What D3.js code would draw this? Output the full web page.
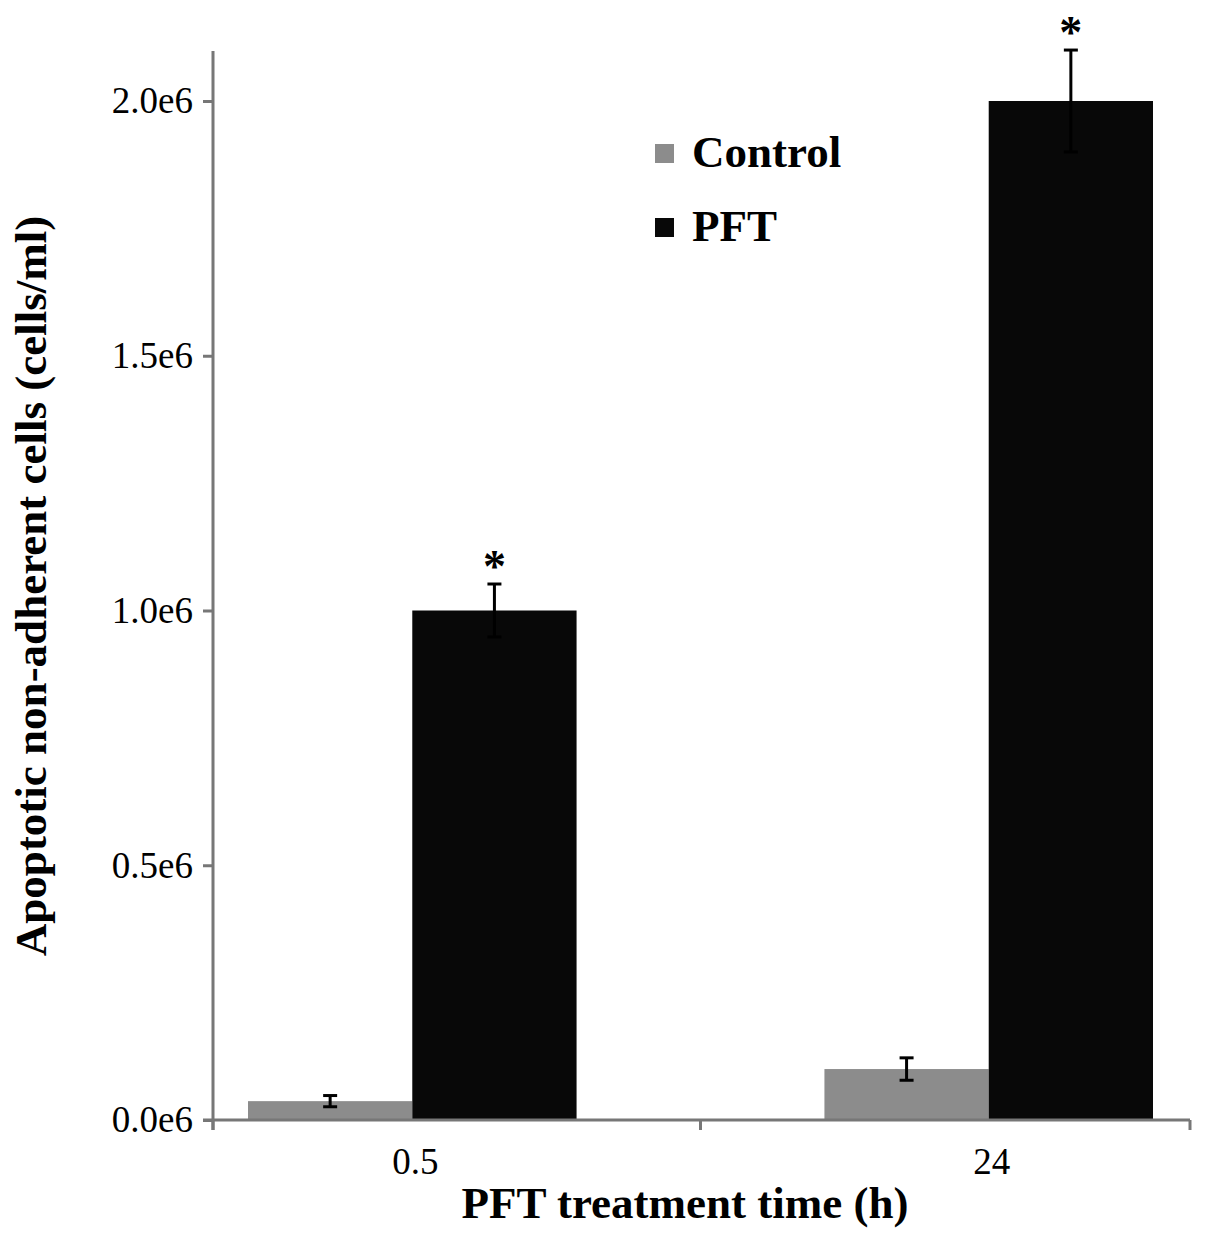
<!DOCTYPE html>
<html>
<head>
<meta charset="utf-8">
<script src="https://cdn.jsdelivr.net/npm/d3@7"></script>
<style>
  body { margin: 0; background: #fff; }
  text { font-family: "Liberation Serif", "Times New Roman", serif; }
</style>
</head>
<body>
<script>
// Chart data
const categories = ["0.5", "24"];
const seriesNames = ["Control", "PFT"];
const controlValues = [0.037e6, 0.1e6];
const controlErrors = [0.011e6, 0.022e6];
const pftValues = [1.0e6, 2.0e6];
const pftErrors = [0.052e6, 0.1e6];
const significant = [false, false, true, true]; // control 0.5, control 24, pft 0.5, pft 24
const yTicks = [0, 0.5e6, 1.0e6, 1.5e6, 2.0e6];
const yTickLabels = ["0.0e6", "0.5e6", "1.0e6", "1.5e6", "2.0e6"];

const width = 1205, height = 1239;
const colors = { Control: "#8c8c8c", PFT: "#080808" };
const axisColor = "#777";

const svg = d3.select("body").append("svg")
    .attr("width", width)
    .attr("height", height);

// Scales
const y = d3.scaleLinear().domain([0, 2.0e6]).range([1120, 101]);
const x0 = d3.scaleBand().domain(categories).range([248, 1153]).paddingInner(0.43);
const x1 = d3.scaleBand().domain(seriesNames).range([0, x0.bandwidth()]);

// Bars
const rows = [];
categories.forEach((c, i) => {
  rows.push({ cat: c, series: "Control", value: controlValues[i], err: controlErrors[i], sig: significant[i] });
  rows.push({ cat: c, series: "PFT", value: pftValues[i], err: pftErrors[i], sig: significant[2 + i] });
});

svg.append("g").selectAll("rect")
  .data(rows)
  .enter().append("rect")
    .attr("x", d => x0(d.cat) + x1(d.series))
    .attr("y", d => y(d.value))
    .attr("width", x1.bandwidth())
    .attr("height", d => y(0) - y(d.value))
    .attr("fill", d => colors[d.series]);

// Error bars
const eb = svg.append("g").attr("stroke", "#000").attr("stroke-width", 3);
rows.forEach(d => {
  const cx = x0(d.cat) + x1(d.series) + x1.bandwidth() / 2;
  const top = y(d.value + d.err), bot = y(d.value - d.err);
  eb.append("line").attr("x1", cx).attr("x2", cx).attr("y1", top).attr("y2", bot);
  eb.append("line").attr("x1", cx - 7).attr("x2", cx + 7).attr("y1", top).attr("y2", top);
  eb.append("line").attr("x1", cx - 7).attr("x2", cx + 7).attr("y1", bot).attr("y2", bot);
  if (d.sig) {
    svg.append("text")
      .attr("x", cx).attr("y", top - 2)
      .attr("text-anchor", "middle")
      .attr("font-size", 46).attr("font-weight", "bold")
      .text("*");
  }
});

// Y axis
const yAxis = svg.append("g")
  .attr("transform", "translate(213,0)")
  .call(d3.axisLeft(y).tickValues(yTicks).tickFormat((d, i) => yTickLabels[i]).tickSize(10).tickPadding(10));
yAxis.select(".domain").remove();
yAxis.selectAll(".tick line").attr("stroke", axisColor).attr("stroke-width", 3);
yAxis.selectAll(".tick text").attr("font-size", 37).attr("fill", "#000")
  .attr("font-family", "Liberation Serif, serif");
svg.append("line")
  .attr("x1", 213).attr("x2", 213).attr("y1", 51).attr("y2", 1130)
  .attr("stroke", axisColor).attr("stroke-width", 3);

// X axis
svg.append("line")
  .attr("x1", 203).attr("x2", 1190).attr("y1", y(0)).attr("y2", y(0))
  .attr("stroke", axisColor).attr("stroke-width", 3);
const xEdges = [213, (x0(categories[0]) + x0.bandwidth() + x0(categories[1])) / 2, 1190];
svg.append("g").selectAll("line")
  .data(xEdges)
  .enter().append("line")
    .attr("x1", d => d).attr("x2", d => d)
    .attr("y1", y(0)).attr("y2", y(0) + 10)
    .attr("stroke", axisColor).attr("stroke-width", 3);
svg.append("g").selectAll("text")
  .data(categories)
  .enter().append("text")
    .attr("x", d => x0(d) + x0.bandwidth() / 2 + 3)
    .attr("y", 1174)
    .attr("text-anchor", "middle")
    .attr("font-size", 37)
    .text(d => d);

// Axis titles
svg.append("text")
  .attr("x", 685).attr("y", 1218)
  .attr("text-anchor", "middle")
  .attr("font-size", 45).attr("font-weight", "bold")
  .text("PFT treatment time (h)");
svg.append("text")
  .attr("transform", "translate(46,586) rotate(-90)")
  .attr("text-anchor", "middle")
  .attr("font-size", 45).attr("font-weight", "bold")
  .text("Apoptotic non-adherent cells (cells/ml)");

// Legend
const legend = svg.append("g").attr("transform", "translate(655,140)");
seriesNames.forEach((s, i) => {
  const g = legend.append("g").attr("transform", `translate(0,${i * 74})`);
  g.append("rect").attr("x", 0).attr("y", 4).attr("width", 19).attr("height", 19).attr("fill", colors[s]);
  g.append("text").attr("x", 37).attr("y", 27)
    .attr("font-size", 45).attr("font-weight", "bold")
    .text(s);
});
</script>
</body>
</html>
